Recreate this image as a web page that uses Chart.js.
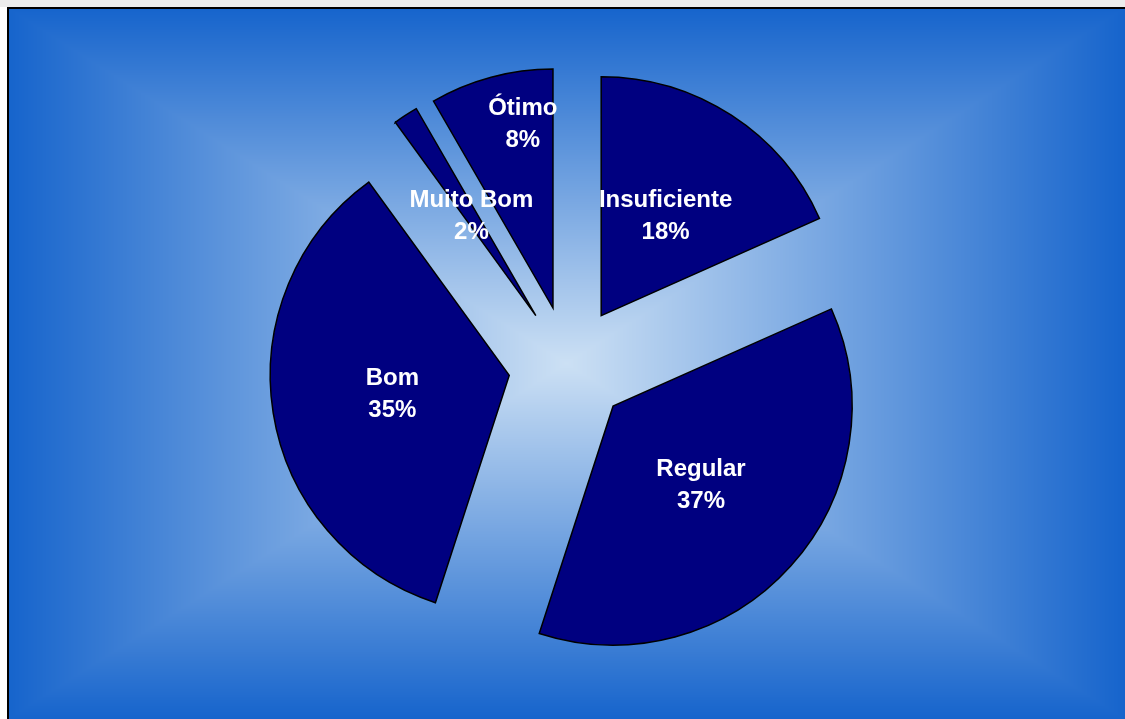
<!DOCTYPE html>
<html>
<head>
<meta charset="utf-8">
<script src="https://cdn.jsdelivr.net/npm/chart.js@4"></script>
<style>
  html, body { margin: 0; padding: 0; background: #fff; }
  canvas { display: block; }
</style>
</head>
<body>
<canvas id="chart" width="1125" height="719"></canvas>
<script>
// answers counted per category (clockwise from 12 o'clock)
const categories = ["Insuficiente", "Regular", "Bom", "Muito Bom", "Ótimo"];
const counts = [11, 22, 21, 1, 5];

// box gradient behind the pie, light in the middle, blue at the edges
let bgCache = null;
const backdrop = {
  id: "backdrop",
  beforeDraw(chart) {
    const ctx = chart.ctx;
    const w = chart.width, h = chart.height;
    if (!bgCache) {
      const x0 = 8, y0 = 8;
      const cx = (x0 + w) / 2, cy = (y0 + h) / 2;
      const hw = (w - x0) / 2, hh = (h - y0) / 2;
      const edge = [22, 100, 204], mid = [204, 224, 244];
      bgCache = ctx.createImageData(w, h);
      const d = bgCache.data;
      for (let y = 0; y < h; y++) {
        for (let x = 0; x < w; x++) {
          const k = (y * w + x) * 4;
          let c;
          if (y < 7) c = [236, 236, 236];
          else if (x < 7) c = [255, 255, 255];
          else {
            const t = Math.min(1, Math.max(Math.abs(x + 0.5 - cx) / hw, Math.abs(y + 0.5 - cy) / hh));
            c = [0, 1, 2].map(j => mid[j] + (edge[j] - mid[j]) * t);
          }
          d[k] = c[0]; d[k + 1] = c[1]; d[k + 2] = c[2]; d[k + 3] = 255;
        }
      }
    }
    ctx.putImageData(bgCache, 0, 0);
    ctx.save();
    ctx.strokeStyle = "#000";
    ctx.lineWidth = 2;
    ctx.beginPath();
    ctx.moveTo(8, h + 2);
    ctx.lineTo(8, 8);
    ctx.lineTo(w + 2, 8);
    ctx.stroke();
    ctx.restore();
  }
};

// pull every slice out from the centre by the same distance
const explode = {
  id: "explode",
  afterDatasetsUpdate(chart, args, opts) {
    chart.getDatasetMeta(0).data.forEach(arc => {
      const a = (arc.startAngle + arc.endAngle) / 2;
      arc.x += Math.cos(a) * opts.distance;
      arc.y += Math.sin(a) * opts.distance;
    });
  }
};

// category name + rounded percent inside each slice
const sliceLabels = {
  id: "sliceLabels",
  afterDatasetsDraw(chart, args, opts) {
    const ctx = chart.ctx;
    const meta = chart.getDatasetMeta(0);
    const data = chart.data.datasets[0].data;
    const total = data.reduce((s, v) => s + v, 0);
    ctx.save();
    ctx.fillStyle = "#ffffff";
    ctx.font = opts.font;
    ctx.textAlign = "center";
    ctx.textBaseline = "middle";
    meta.data.forEach((arc, i) => {
      const tweak = opts.tweaks[i] || {};
      const f = tweak.factor || opts.factor;
      const a = (arc.startAngle + arc.endAngle) / 2 + (tweak.turn || 0) * Math.PI / 180;
      const x = arc.x + Math.cos(a) * arc.outerRadius * f;
      const y = arc.y + Math.sin(a) * arc.outerRadius * f;
      const pct = Math.round(data[i] / total * 100) + "%";
      ctx.fillText(chart.data.labels[i], x, y - opts.lineGap / 2);
      ctx.fillText(pct, x, y + opts.lineGap / 2);
    });
    ctx.restore();
  }
};

new Chart(document.getElementById("chart"), {
  type: "pie",
  data: {
    labels: categories,
    datasets: [
      {
        data: counts,
        backgroundColor: "#000080",
        borderColor: "#000000",
        borderWidth: 1.5,
        borderJoinStyle: "miter",
      },
    ],
  },
  options: {
    responsive: false,
    animation: false,
    radius: 239,
    layout: { padding: { left: 12, top: 13, right: 0, bottom: 0 } },
    events: [],
    plugins: {
      legend: { display: false },
      tooltip: { enabled: false },
      explode: { distance: 60 },
      sliceLabels: {
        font: 'bold 24px "Liberation Sans", Arial, sans-serif',
        lineGap: 32,
        factor: 0.495,
        tweaks: { 4: { factor: 0.78, turn: 5.7 } },
      },
    },
  },
  plugins: [backdrop, explode, sliceLabels],
});
</script>
</body>
</html>
